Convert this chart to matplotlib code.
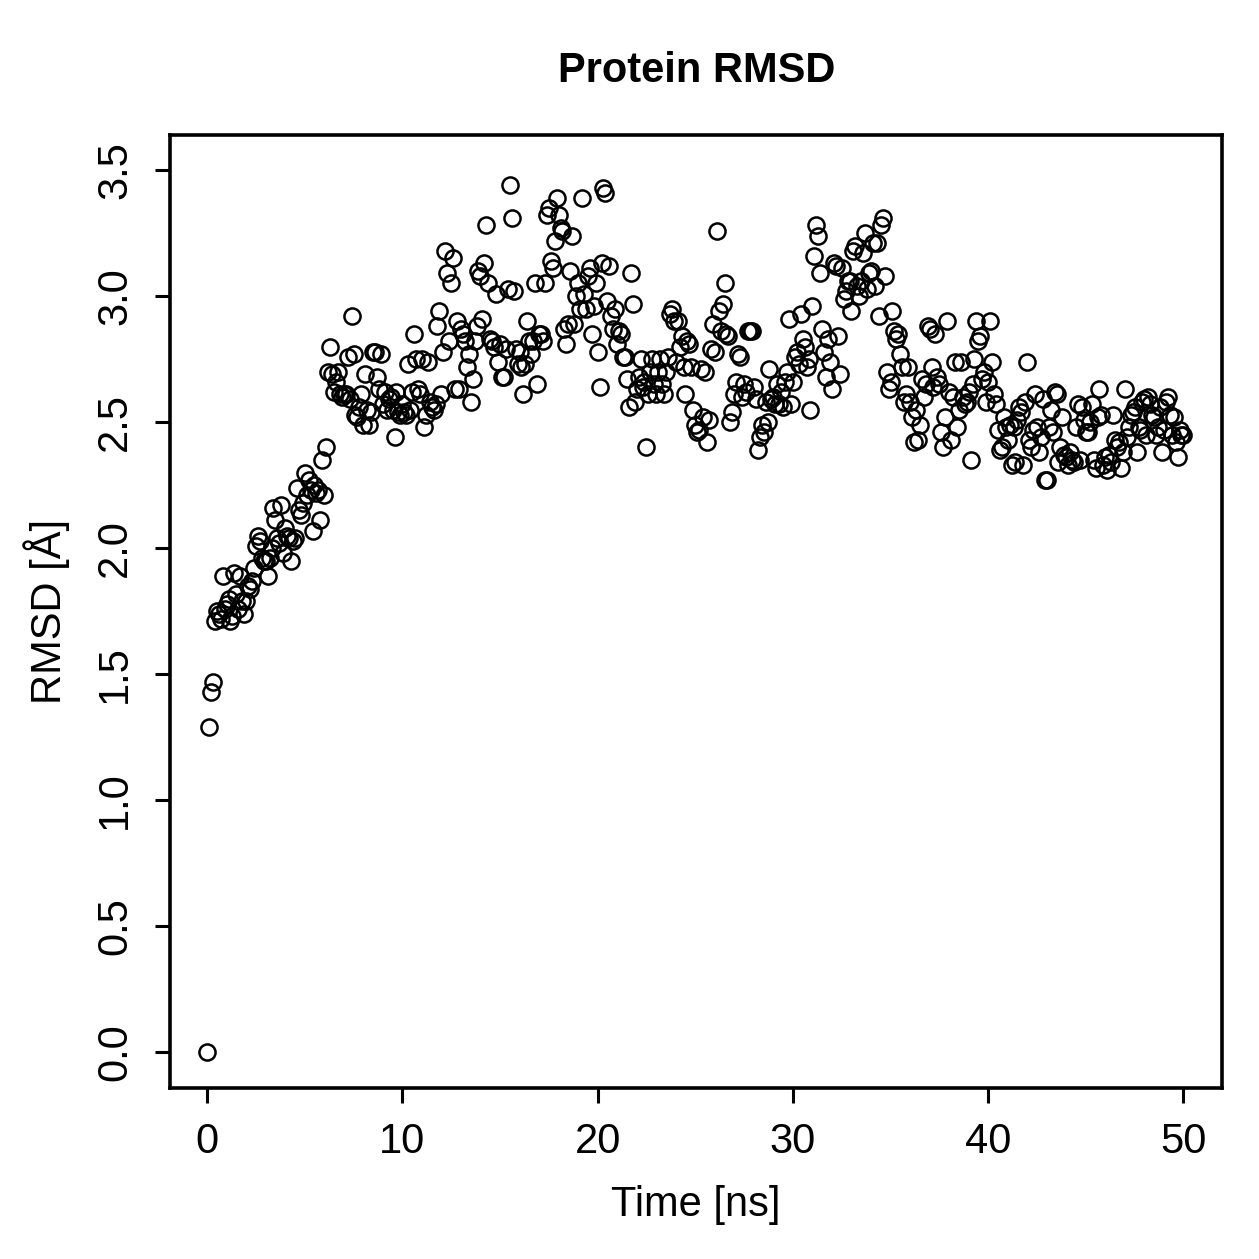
import numpy as np
import matplotlib
matplotlib.use("Agg")
import matplotlib.pyplot as plt

plt.rcParams['font.family'] = ['Liberation Sans', 'DejaVu Sans']

# RMSD values, one row per ns (10 frames each)
rmsd = [
    0.00, 1.29, 1.43, 1.47, 1.71, 1.75, 1.74, 1.72, 1.89, 1.76,
    1.78, 1.80, 1.71, 1.73, 1.90, 1.82, 1.76, 1.89, 1.79, 1.74,
    1.79, 1.85, 1.84, 1.87, 1.92, 2.01, 2.05, 2.03, 1.96, 1.95,
    1.95, 1.89, 1.96, 2.00, 2.16, 2.11, 2.04, 2.02, 2.17, 1.98,
    2.08, 2.05, 2.04, 1.95, 2.03, 2.04, 2.24, 2.15, 2.13, 2.18,
    2.30, 2.21, 2.27, 2.23, 2.07, 2.25, 2.22, 2.23, 2.11, 2.35,
    2.21, 2.40, 2.70, 2.80, 2.69, 2.62, 2.66, 2.70, 2.61, 2.60,
    2.61, 2.61, 2.76, 2.59, 2.92, 2.77, 2.53, 2.52, 2.56, 2.61,
    2.49, 2.69, 2.55, 2.49, 2.54, 2.78, 2.78, 2.68, 2.63, 2.77,
    2.57, 2.62, 2.55, 2.59, 2.60, 2.55, 2.44, 2.62, 2.54, 2.53,
    2.57, 2.54, 2.53, 2.73, 2.55, 2.62, 2.85, 2.75, 2.63, 2.61,
    2.75, 2.48, 2.53, 2.74, 2.58, 2.56, 2.55, 2.57, 2.88, 2.94,
    2.61, 2.78, 3.18, 3.09, 2.82, 3.05, 3.15, 2.63, 2.90, 2.63,
    2.87, 2.85, 2.82, 2.72, 2.77, 2.58, 2.67, 2.82, 2.88, 3.10,
    3.08, 2.91, 3.13, 3.28, 3.05, 2.83, 2.82, 2.80, 3.01, 2.74,
    2.81, 2.68, 2.68, 2.79, 3.03, 3.44, 3.31, 3.02, 2.79, 2.73,
    2.78, 2.72, 2.61, 2.73, 2.90, 2.82, 2.77, 2.82, 3.05, 2.65,
    2.85, 2.85, 2.82, 3.05, 3.32, 3.35, 3.14, 3.11, 3.22, 3.39,
    3.32, 3.27, 3.26, 2.87, 2.81, 2.89, 3.10, 3.24, 2.89, 3.00,
    3.05, 2.95, 3.39, 3.01, 2.95, 3.08, 3.11, 2.85, 2.96, 3.05,
    2.78, 2.64, 3.13, 3.43, 3.41, 2.98, 3.12, 2.92, 2.87, 2.95,
    2.81, 2.86, 2.85, 2.76, 2.76, 2.67, 2.56, 3.09, 2.97, 2.58,
    2.63, 2.68, 2.75, 2.64, 2.66, 2.40, 2.61, 2.70, 2.75, 2.65,
    2.61, 2.70, 2.75, 2.65, 2.61, 2.70, 2.76, 2.93, 2.95, 2.90,
    2.74, 2.90, 2.80, 2.84, 2.72, 2.61, 2.82, 2.81, 2.72, 2.55,
    2.49, 2.46, 2.47, 2.71, 2.52, 2.70, 2.42, 2.51, 2.79, 2.89,
    2.78, 3.26, 2.94, 2.86, 2.97, 3.05, 2.85, 2.84, 2.50, 2.54,
    2.61, 2.66, 2.77, 2.76, 2.60, 2.65, 2.62, 2.86, 2.86, 2.86,
    2.64, 2.59, 2.39, 2.44, 2.49, 2.46, 2.58, 2.50, 2.71, 2.59,
    2.60, 2.57, 2.65, 2.57, 2.62, 2.56, 2.66, 2.70, 2.91, 2.57,
    2.66, 2.76, 2.78, 2.73, 2.93, 2.83, 2.80, 2.72, 2.75, 2.55,
    2.96, 3.16, 3.28, 3.24, 3.09, 2.87, 2.78, 2.68, 2.83, 2.74,
    2.63, 3.13, 3.12, 2.84, 2.69, 3.11, 2.99, 3.02, 3.06, 3.06,
    2.94, 3.18, 3.20, 3.04, 3.00, 3.06, 3.17, 3.25, 3.03, 3.09,
    3.10, 3.21, 3.04, 3.21, 2.92, 3.28, 3.31, 3.08, 2.70, 2.63,
    2.66, 2.94, 2.86, 2.83, 2.85, 2.77, 2.72, 2.58, 2.61, 2.72,
    2.58, 2.52, 2.42, 2.55, 2.43, 2.49, 2.67, 2.60, 2.65, 2.88,
    2.87, 2.72, 2.64, 2.85, 2.68, 2.65, 2.46, 2.40, 2.52, 2.90,
    2.62, 2.43, 2.60, 2.74, 2.48, 2.55, 2.74, 2.60, 2.57, 2.58,
    2.62, 2.35, 2.65, 2.75, 2.90, 2.82, 2.84, 2.67, 2.70, 2.58,
    2.66, 2.90, 2.74, 2.61, 2.57, 2.47, 2.39, 2.40, 2.52, 2.48,
    2.43, 2.49, 2.33, 2.48, 2.34, 2.51, 2.56, 2.54, 2.33, 2.58,
    2.74, 2.43, 2.40, 2.47, 2.61, 2.48, 2.38, 2.44, 2.59, 2.27,
    2.27, 2.48, 2.55, 2.46, 2.62, 2.61, 2.34, 2.40, 2.52, 2.37,
    2.36, 2.33, 2.38, 2.35, 2.34, 2.48, 2.57, 2.35, 2.56, 2.51,
    2.46, 2.46, 2.50, 2.57, 2.35, 2.32, 2.52, 2.63, 2.53, 2.33,
    2.36, 2.31, 2.37, 2.34, 2.53, 2.43, 2.40, 2.42, 2.32, 2.38,
    2.63, 2.44, 2.48, 2.53, 2.54, 2.56, 2.38, 2.48, 2.47, 2.58,
    2.59, 2.45, 2.60, 2.57, 2.53, 2.52, 2.45, 2.48, 2.56, 2.38,
    2.47, 2.58, 2.60, 2.53, 2.45, 2.52, 2.42, 2.36, 2.47, 2.45,
    2.45,
]
time_ns = [i * 0.1 for i in range(len(rmsd))]

x_ticks = [0, 10, 20, 30, 40, 50]
y_ticks = [0.0, 0.5, 1.0, 1.5, 2.0, 2.5, 3.0, 3.5]

fig = plt.figure(figsize=(6.295, 6.295), dpi=200)
ax = fig.add_axes([0.135, 0.136, 0.836, 0.757])

ax.plot(time_ns, rmsd, 'o', mfc='none', mec='black', ms=5.8, mew=0.9)

ax.set_xlim(-1.9, 52.0)
ax.set_ylim(-0.14, 3.64)
ax.set_xticks(x_ticks)
ax.set_xticklabels([str(t) for t in x_ticks])
ax.set_yticks(y_ticks)
ax.set_yticklabels(['%.1f' % t for t in y_ticks], rotation=90, va='center')

for s in ax.spines.values():
    s.set_linewidth(1.3)
ax.tick_params(direction='out', length=5.5, width=1.1, labelsize=15, pad=7)

ax.set_xlabel('Time [ns]', fontsize=15, labelpad=8)
ax.set_ylabel('RMSD [Å]', fontsize=15, labelpad=9)
ax.set_title('Protein RMSD', fontsize=15, fontweight='bold', pad=19)

fig.savefig('out.png', dpi=200)
